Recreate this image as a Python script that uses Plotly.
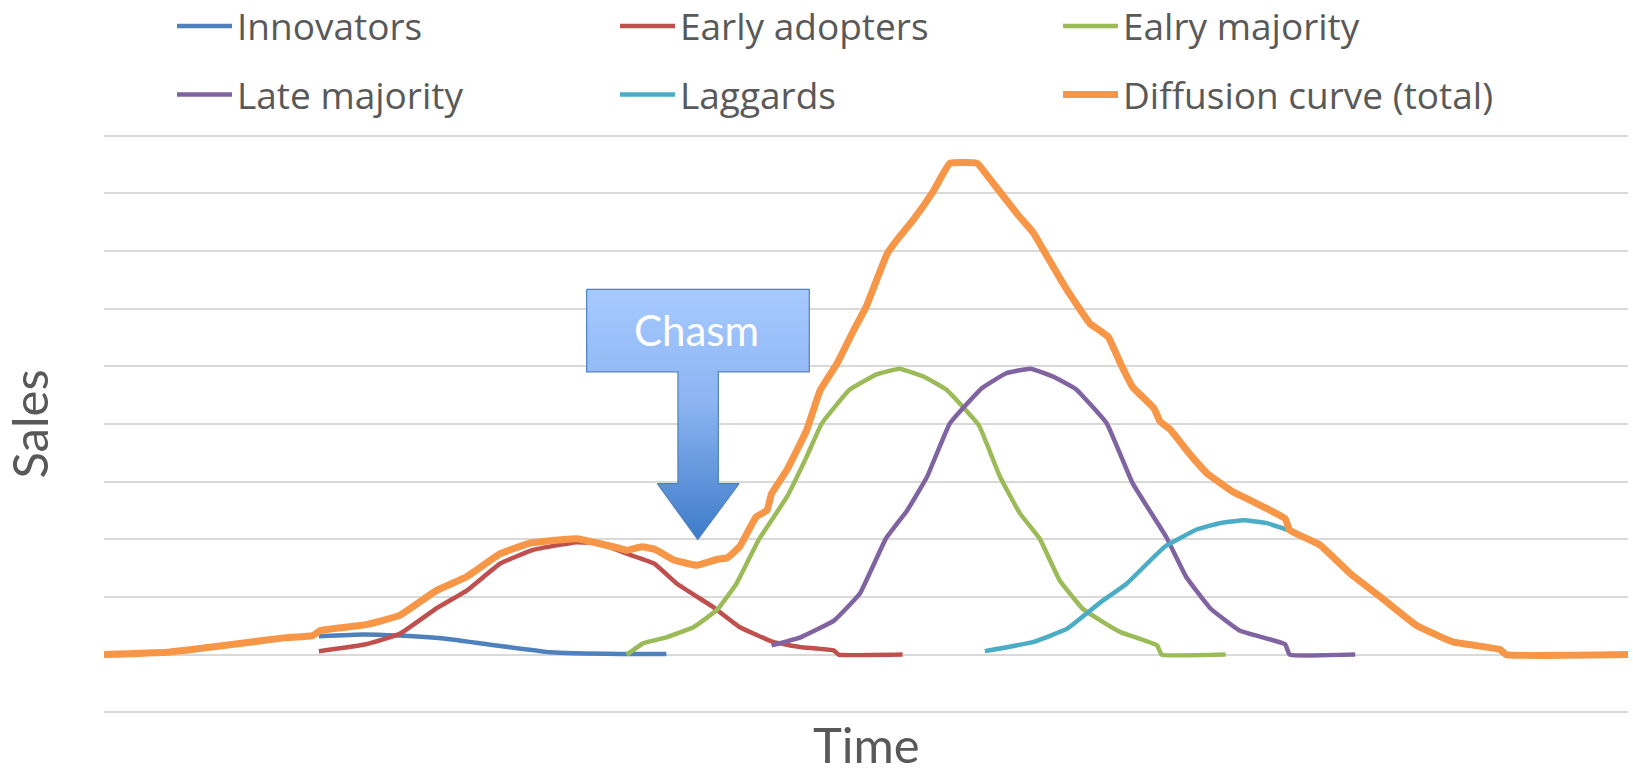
import plotly.graph_objects as go

# ---- data: time (0-100) vs. sales (arbitrary units, one grid step = 10) ----
innovators_t = [14.1, 17.0, 19.4, 22.3, 26.0, 29.3, 33.9, 36.9]
innovators_y = [3.2, 3.5, 3.3, 2.8, 1.5, 0.4, 0.1, 0.1]

early_adopters_t = [14.1, 17.2, 19.4, 21.8, 23.8, 26.0, 28.2, 31.0, 32.5, 34.3,
                    36.1, 37.6, 40.0, 41.7, 43.9, 45.7, 47.9, 48.2, 52.4]
early_adopters_y = [0.6, 1.8, 3.6, 8.0, 11.1, 15.8, 18.2, 19.5, 19.3, 17.5,
                    15.8, 12.3, 8.2, 4.8, 2.2, 1.3, 0.7, 0.0, 0.0]

early_majority_t = [34.3, 35.4, 36.9, 38.7, 40.2, 41.5, 43.0, 44.8, 46.1, 47.1,
                    48.9, 50.7, 52.2, 53.8, 55.3, 57.4, 58.8, 60.1, 61.4, 62.7,
                    64.2, 65.4, 66.7, 69.1, 69.4, 73.6]
early_majority_y = [0.0, 2.0, 3.0, 4.8, 7.7, 12.3, 20.1, 27.3, 34.3, 40.1,
                    45.9, 48.6, 49.6, 48.2, 45.9, 39.8, 30.8, 24.5, 20.1, 12.9,
                    8.0, 5.9, 3.9, 1.6, 0.0, 0.0]

late_majority_t = [43.8, 45.7, 47.9, 49.6, 51.3, 52.7, 54.0, 55.5, 57.6, 59.2,
                   60.8, 62.3, 63.8, 65.8, 67.5, 69.7, 71.0, 72.6, 74.5, 77.5,
                   77.8, 82.1]
late_majority_y = [1.6, 3.0, 5.9, 10.6, 20.1, 25.0, 30.8, 40.1, 46.2, 48.8,
                   49.6, 48.2, 46.0, 40.1, 29.7, 20.4, 13.5, 8.0, 4.2, 1.8,
                   0.0, 0.0]

laggards_t = [57.8, 61.0, 63.2, 65.4, 67.1, 69.6, 71.7, 73.2, 74.8, 76.3, 77.7]
laggards_y = [0.6, 2.2, 4.5, 9.1, 12.3, 18.7, 21.7, 22.8, 23.3, 22.8, 21.6]

total_t = [0.0, 4.1, 7.6, 11.8, 13.7, 14.2, 17.2, 19.4, 21.8, 23.8,
           26.0, 27.9, 31.0, 33.9, 34.3, 35.3, 36.2, 37.4, 38.9, 40.2,
           40.9, 41.7, 42.8, 43.5, 43.8, 44.8, 46.1, 47.0, 48.1, 49.2,
           50.0, 51.4, 52.2, 53.1, 54.4, 55.5, 57.3, 58.1, 59.9, 61.0,
           61.9, 63.2, 64.7, 65.3, 65.9, 66.7, 67.5, 68.9, 69.3, 69.9,
           71.3, 72.4, 74.1, 74.8, 76.1, 77.5, 77.8, 79.8, 81.8, 83.9,
           86.1, 88.5, 91.6, 92.0, 100.0]
total_y = [0.0, 0.4, 1.5, 2.9, 3.3, 4.2, 5.2, 6.8, 11.1, 13.5,
           17.5, 19.3, 20.1, 18.4, 18.1, 18.7, 18.2, 16.4, 15.5, 16.5,
           16.8, 18.7, 23.9, 25.0, 27.9, 32.0, 38.9, 45.9, 50.5, 56.3,
           60.3, 69.6, 72.5, 75.4, 80.3, 85.2, 85.2, 82.6, 76.5, 73.1,
           69.0, 63.2, 57.4, 56.3, 55.1, 50.5, 46.4, 42.7, 40.4, 39.2,
           34.6, 31.4, 28.2, 27.3, 25.6, 23.6, 21.6, 19.0, 14.0, 9.7,
           5.1, 2.2, 0.9, 0.0, 0.0]

series = [
    ("Innovators", innovators_t, innovators_y, "#4F81BD", 4.5, "legend"),
    ("Early adopters", early_adopters_t, early_adopters_y, "#C0504D", 4.5, "legend"),
    ("Ealry majority", early_majority_t, early_majority_y, "#9BBB59", 4.5, "legend"),
    ("Late majority", late_majority_t, late_majority_y, "#8064A2", 4.5, "legend2"),
    ("Laggards", laggards_t, laggards_y, "#4BACC6", 4.5, "legend2"),
    ("Diffusion curve (total)", total_t, total_y, "#F79646", 7, "legend2"),
]

FONT = "Lato, 'Open Sans', sans-serif"
LEGEND_FONT = "'Open Sans', Lato, sans-serif"
GREY = "#595959"

fig = go.Figure()

# "Chasm" down-arrow callout (drawn beneath the curves)
bx0, bx1, by0, by1 = 31.67, 46.28, 49.05, 63.35      # callout box
sx0, sx1, sy = 37.66, 40.31, 29.67                   # arrow stem
hx0, hx1, tipx, tipy = 36.31, 41.67, 38.96, 19.95    # arrow head
arrow_x = [bx0, bx1, bx1, sx1, sx1, hx1, tipx, hx0, sx0, sx0, bx0, bx0]
arrow_y = [by1, by1, by0, by0, sy, sy, tipy, sy, sy, by0, by0, by1]
fig.add_trace(go.Scatter(
    x=arrow_x, y=arrow_y, mode="lines", fill="toself",
    fillgradient=dict(type="vertical",
                      colorscale=[[0, "#3D7BC9"], [0.55, "#8DB5F2"], [1, "#A6C9FF"]]),
    line=dict(color="#4F81BD", width=1.2),
    showlegend=False, hoverinfo="skip",
))

for name, t, y, color, width, leg in series:
    fig.add_trace(go.Scatter(
        x=t, y=y, name=name, mode="lines",
        line=dict(color=color, width=width, shape="spline", smoothing=0.3),
        legend=leg,
    ))

fig.add_annotation(x=38.88, y=56.3, text="Chasm", showarrow=False,
                   font=dict(family=FONT, size=42, color="white"))

# x-axis title, placed just under the plot area
fig.add_annotation(x=0.5, y=-0.052, xref="paper", yref="paper",
                   xanchor="center", yanchor="middle", text="Time", showarrow=False,
                   font=dict(family=FONT, size=49, color=GREY))

legend_common = dict(
    orientation="h", xanchor="left", yanchor="middle",
    xref="container", yref="container",
    entrywidth=373, entrywidthmode="pixels", itemwidth=55,
    font=dict(family=LEGEND_FONT, size=37, color=GREY),
    bgcolor="rgba(0,0,0,0)", borderwidth=0, traceorder="normal",
)

fig.update_layout(
    width=1633, height=771,
    margin=dict(l=104, r=5, t=134, b=57),
    paper_bgcolor="white", plot_bgcolor="white",
    font=dict(family=FONT, color=GREY),
    xaxis=dict(range=[0, 100], showgrid=False, zeroline=False, showline=False,
               showticklabels=False, ticks="", automargin=False),
    yaxis=dict(range=[-10.3, 90.3], dtick=10, tick0=0, showgrid=True,
               gridcolor="#D9D9D9", gridwidth=1.6, zeroline=False, showline=False,
               showticklabels=False, ticks="", automargin=False,
               title=dict(text="Sales", font=dict(family=FONT, size=49, color=GREY),
                          standoff=52)),
    legend=dict(x=172 / 1633, y=1 - 26.5 / 771, **legend_common),
    legend2=dict(x=172 / 1633, y=1 - 95 / 771, **legend_common),
    showlegend=True,
)

fig.write_html("out.html")
